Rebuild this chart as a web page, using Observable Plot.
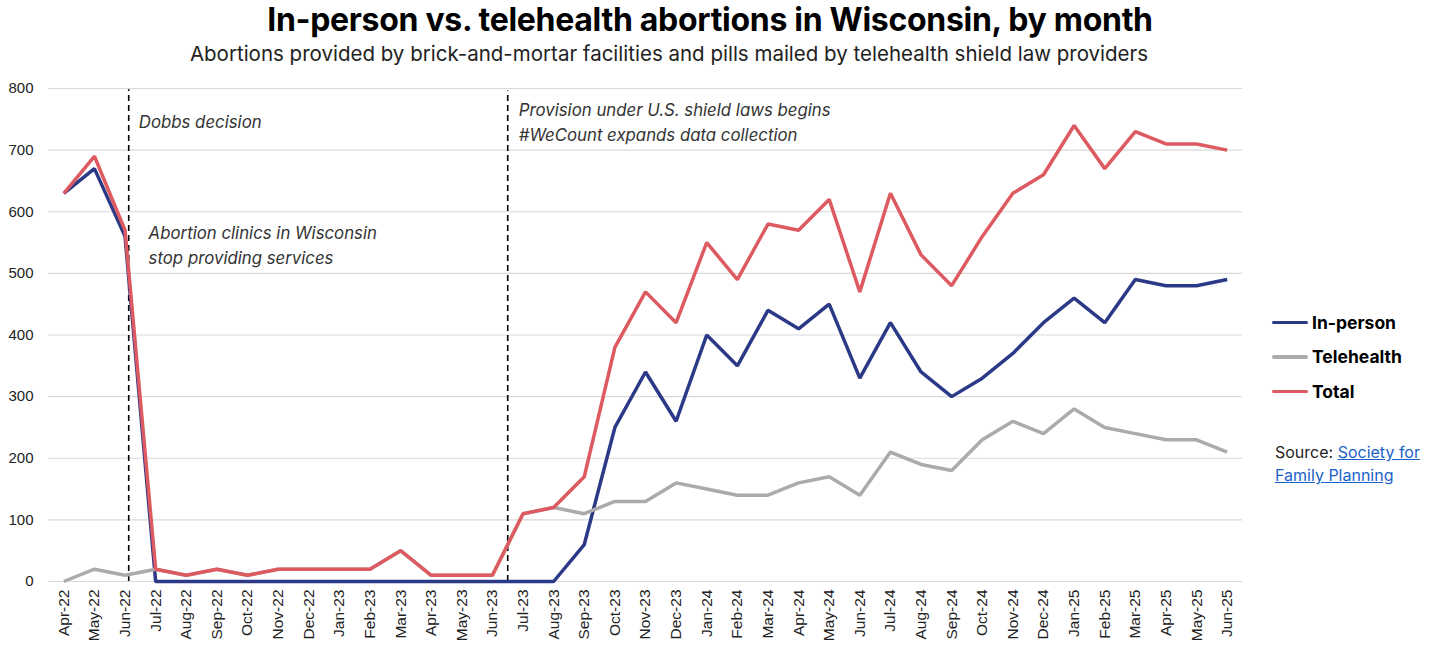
<!DOCTYPE html>
<html>
<head>
<meta charset="utf-8">
<script src="https://cdn.jsdelivr.net/npm/d3@7"></script>
<script src="https://cdn.jsdelivr.net/npm/@observablehq/plot@0.6"></script>
<style>
  html, body { margin: 0; padding: 0; background: #fff; }
  body { width: 1440px; height: 650px; position: relative; overflow: hidden; font-family: Inter, "Noto Sans", sans-serif; }
  #title { position: absolute; left: 0; width: 1420px; top: 0px; text-align: center; font-size: 32px; font-weight: 700; color: #000; letter-spacing: -0.3px; }
  #subtitle { position: absolute; left: 0; width: 1338px; top: 41px; text-align: center; font-size: 20.5px; color: #222; }
  #chart { position: absolute; left: 0; top: 70px; }
  #legend { position: absolute; left: 1272px; top: 305px; }
  .item { display: flex; align-items: center; height: 34.5px; font-weight: 700; font-size: 17.5px; color: #000; }
  .sw { width: 36px; height: 3.5px; margin-right: 4px; border-radius: 2px; }
  #source { position: absolute; left: 1275px; top: 441px; font-size: 16px; color: #222; line-height: 23px; }
  #source a { color: #1a62c9; text-decoration: underline; }
</style>
</head>
<body>
<div id="title">In-person vs. telehealth abortions in Wisconsin, by month</div>
<div id="subtitle">Abortions provided by brick-and-mortar facilities and pills mailed by telehealth shield law providers</div>
<div id="chart"></div>
<div id="legend"></div>
<div id="source">Source: <a href="#">Society for<br>Family Planning</a></div>
<script>
const months = ["Apr-22","May-22","Jun-22","Jul-22","Aug-22","Sep-22","Oct-22","Nov-22","Dec-22",
  "Jan-23","Feb-23","Mar-23","Apr-23","May-23","Jun-23","Jul-23","Aug-23","Sep-23","Oct-23","Nov-23","Dec-23",
  "Jan-24","Feb-24","Mar-24","Apr-24","May-24","Jun-24","Jul-24","Aug-24","Sep-24","Oct-24","Nov-24","Dec-24",
  "Jan-25","Feb-25","Mar-25","Apr-25","May-25","Jun-25"];
const inPerson = [630,670,560,0,0,0,0,0,0, 0,0,0,0,0,0,0,0,60,250,340,260,
  400,350,440,410,450,330,420,340,300,330,370,420, 460,420,490,480,480,490];
const telehealth = [0,20,10,20,10,20,10,20,20, 20,20,50,10,10,10,110,120,110,130,130,160,
  150,140,140,160,170,140,210,190,180,230,260,240, 280,250,240,230,230,210];
const total = [630,690,570,20,10,20,10,20,20, 20,20,50,10,10,10,110,120,170,380,470,420,
  550,490,580,570,620,470,630,530,480,560,630,660, 740,670,730,710,710,700];
const seriesNames = ["In-person","Telehealth","Total"];
const seriesColors = ["#2c3986","#ababab","#dd5b60"];
const yTicks = [0,100,200,300,400,500,600,700,800];

// event markers (month index positions) and annotation texts
const events = [{x: 2.12, top: 798}, {x: 14.5, top: 796}];
const notes = [
  {x: 2.45, y: 749, text: "Dobbs decision"},
  {x: 2.77, y: 548, text: "Abortion clinics in Wisconsin\nstop providing services"},
  {x: 14.86, y: 748, text: "Provision under U.S. shield laws begins\n#WeCount expands data collection"}
];

const rows = [];
[inPerson, telehealth, total].forEach((arr, s) => arr.forEach((v, i) => rows.push({i, v, s: seriesNames[s]})));

const plot = Plot.plot({
  width: 1440,
  height: 580,
  marginLeft: 48,
  marginRight: 198,
  marginTop: 18,
  marginBottom: 69,
  style: {fontFamily: "'Liberation Sans', Arial, sans-serif", fontSize: "15px", color: "#222", background: "#fff"},
  x: {type: "linear", domain: [-0.5, months.length - 0.5], axis: null},
  y: {domain: [0, 800], axis: null},
  color: {domain: seriesNames, range: seriesColors},
  marks: [
    Plot.ruleY(yTicks, {stroke: "#d9d9d9", strokeWidth: 1.2}),
    Plot.axisY({ticks: yTicks, tickSize: 0, tickPadding: 15, fontSize: 15, fill: "#222"}),
    Plot.axisX({ticks: d3.range(months.length), tickFormat: i => months[i], tickRotate: -90, tickSize: 0, tickPadding: 8, fontSize: 15.5, fill: "#222"}),
    Plot.ruleX(events, {x: "x", y1: 0, y2: "top", stroke: "#000", strokeWidth: 1.6, strokeDasharray: "6,4"}),
    Plot.text(notes, {x: "x", y: "y", text: "text", textAnchor: "start", lineHeight: 1.45, fontSize: 16.8, fontStyle: "italic", fill: "#333", fontFamily: "Inter, 'Noto Sans', sans-serif"}),
    Plot.line(rows, {x: "i", y: "v", z: "s", stroke: "s", strokeWidth: 3.5, strokeLinejoin: "miter", strokeLinecap: "butt"})
  ]
});
document.getElementById("chart").appendChild(plot);

const legend = document.getElementById("legend");
seriesNames.forEach((n, k) => {
  const d = document.createElement("div");
  d.className = "item";
  d.innerHTML = `<span class="sw" style="background:${seriesColors[k]}"></span><span>${n}</span>`;
  legend.appendChild(d);
});
</script>
</body>
</html>
